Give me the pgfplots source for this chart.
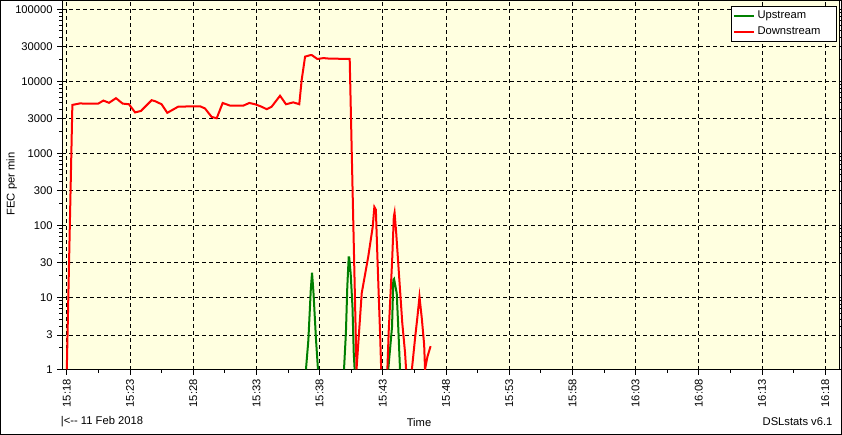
\documentclass[border=0pt]{standalone}
\usepackage{pgfplots}
\pgfplotsset{compat=1.18}
\usepackage{fontspec}
\setmainfont{Liberation Sans}
\definecolor{plotbg}{RGB}{255,255,224}
\definecolor{dslgreen}{RGB}{0,128,0}
\definecolor{dslred}{RGB}{255,0,0}

% minutes after 15:18, FEC per minute
\pgfplotstableread{
t      v
0.00   1
0.44   4700
1.04   4930
1.44   4900
2.49   4900
2.89   5400
3.34   5030
3.89   5830
4.42   4900
4.92   4800
5.40   3700
5.87   3880
6.71   5460
6.98   5300
7.50   4800
7.95   3650
8.82   4450
10.54  4500
10.93  4200
11.46  3200
11.86  3070
12.33  5000
12.91  4600
13.97  4600
14.44  5000
14.89  4800
15.42  4430
15.81  4100
16.20  4430
16.87  6300
17.34  4800
17.92  5100
18.39  4800
18.58  10400
18.85  22000
19.24  23000
19.40  23000
19.82  20400
20.30  21000
20.70  20700
22.38  20400
22.92  1
23.06  2.3
23.33  11.4
23.85  37
24.20  95
24.33  180
24.45  165
24.58  33
24.80  2.6
24.87  1
25.10  nan
25.36  1
25.47  3.5
25.74  33
25.87  132
25.93  150
26.06  78
26.27  22
26.54  4.4
26.76  1.7
26.84  1
27.00  nan
27.30  1
27.56  2.8
27.74  5.4
27.90  10.2
28.09  5
28.27  2.2
28.34  1
28.53  1.5
28.78  2.1
}\downstream

\pgfplotstableread{
t      v
18.92  1
19.11  2.55
19.30  12.6
19.40  22
19.51  12
19.72  2.5
19.87  1
20.50  nan
21.93  1
22.08  3.2
22.19  14
22.30  36
22.34  36
22.46  21
22.60  7.4
22.70  1.7
22.77  1
24.00  nan
25.43  1
25.73  3.9
25.83  17.4
25.89  18
26.10  11.4
26.22  3.9
26.36  1
}\upstream

\begin{document}
\begin{tikzpicture}[x=1pt,y=1pt]
\path[use as bounding box] (0,0) rectangle (631.5,326.25);
\fill[white] (0,0) rectangle (631.5,326.25);
\begin{axis}[
    at={(46.5pt,48.75pt)}, anchor=south west,
    scale only axis,
    width=582.75pt, height=276.75pt,
    ymode=log, log basis y=10,
    xmin=-0.38, xmax=61.09,
    ymin=0.98, ymax=130300,
    axis background/.style={fill=plotbg},
    axis line style={black, line width=0.75pt},
    tick style={black, line width=0.75pt},
    tick align=outside,
    major tick length=3.5pt,
    minor tick length=2pt,
    xtick={0,5,...,60},
    xticklabels={15:18,15:23,15:28,15:33,15:38,15:43,15:48,15:53,15:58,16:03,16:08,16:13,16:18},
    minor xtick={2.5,7.5,...,57.5},
    ytick={1,3,10,30,100,300,1000,3000,10000,30000,100000},
    yticklabels={1,3,10,30,100,300,1000,3000,10000,30000,100000},
    minor ytick={2,4,5,6,7,8,9,20,40,50,60,70,80,90,200,400,500,600,700,800,900,
                 2000,4000,5000,6000,7000,8000,9000,20000,40000,50000,60000,70000,80000,90000},
    xticklabel style={rotate=90, anchor=east, font=\fontsize{8.4}{9}\selectfont},
    yticklabel style={font=\fontsize{8.4}{9}\selectfont},
    grid=major,
    major grid style={black, line width=0.75pt, dash pattern=on 3pt off 2.25pt},
    unbounded coords=jump,
    clip=true,
    legend style={at={(1,1)}, anchor=north east, xshift=-1.7pt, yshift=-3.5pt,
        draw=black, line width=0.75pt, fill=white,
        font=\fontsize{8.4}{9}\selectfont,
        inner xsep=1pt, inner ysep=1.6pt, row sep=0.6pt,
        cells={anchor=west}, text width=56pt},
    legend image code/.code={\draw[#1, line width=1.5pt] (0pt,0pt) -- (15pt,0pt);},
]
\addplot[dslgreen, line width=1.5pt] table[x=t, y=v] {\upstream};
\addlegendentry{Upstream}
\addplot[dslred, line width=1.5pt] table[x=t, y=v] {\downstream};
\addlegendentry{Downstream}
\end{axis}
\node[rotate=90, font=\fontsize{8.4}{9}\selectfont] at (8.8,188.25) {FEC per min};
\node[anchor=west, font=\fontsize{8.4}{9}\selectfont, inner sep=0pt] at (45.5,9.75) {|<-{}- 11 Feb 2018};
\node[font=\fontsize{8.4}{9}\selectfont, inner sep=0pt] at (314.25,9.75) {Time};
\node[anchor=east, font=\fontsize{8.4}{9}\selectfont, inner sep=0pt] at (624.5,9.75) {DSLstats v6.1};
\draw[black, line width=0.75pt] (0.375,0.375) rectangle (631.125,325.875);
\end{tikzpicture}
\end{document}
